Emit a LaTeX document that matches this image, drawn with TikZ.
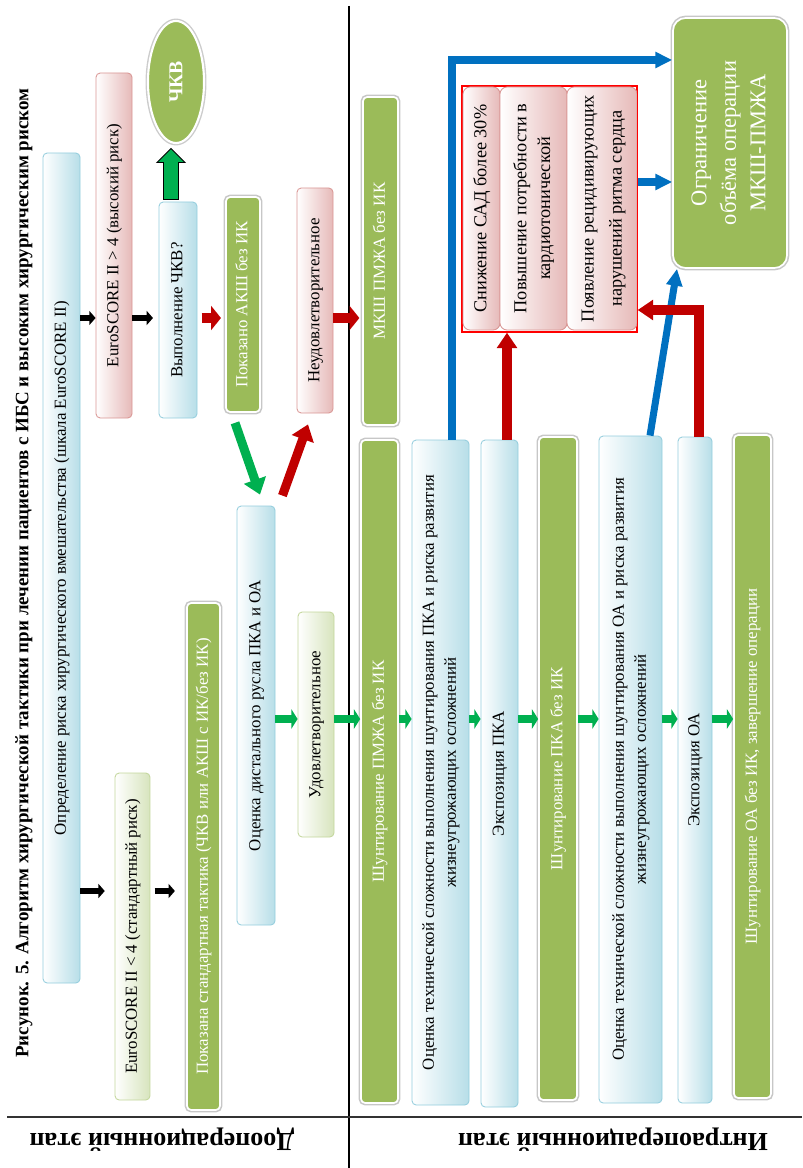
\documentclass[tikz,border=0pt]{standalone}
\usepackage{graphicx}
\usepackage{fontspec}
\setmainfont{Liberation Serif}
\usetikzlibrary{arrows.meta,shapes.geometric,calc}
\definecolor{gr}{HTML}{9BBB59}
\definecolor{lb}{HTML}{B7DEE8}
\definecolor{lbd}{HTML}{93CDDD}
\definecolor{pk}{HTML}{E6B9B8}
\definecolor{pkd}{HTML}{D99694}
\definecolor{lg}{HTML}{D7E4BD}
\definecolor{lgd}{HTML}{C3D69B}
\definecolor{bl}{HTML}{0070C0}
\definecolor{rd}{HTML}{C00000}
\definecolor{ga}{HTML}{00B050}
\newcommand\rtx[1]{\rotatebox{90}{\begin{tabular}{@{}c@{}}#1\end{tabular}}}
\begin{document}
\begin{tikzpicture}[x=0.025cm,y=-0.025cm]
\useasboundingbox (0,0) rectangle (802,1168);
\tikzset{
  sz/.style 2 args={minimum width=#1*0.025cm, minimum height=#2*0.025cm},
  base/.style={inner sep=0pt, rounded corners=3pt, font=\fontsize{12}{15.5}\selectfont, line width=0.6pt},
  bluebox/.style={base, draw=lbd, left color=white, right color=lb},
  pinkbox/.style={base, draw=pkd, left color=white, right color=pk},
  lgbox/.style={base, draw=lgd, left color=white, right color=lg},
  grbox/.style={base, fill=gr, draw=white, line width=1.2pt, text=white, preaction={draw=black!22, line width=3.4pt}},
  blk/.style={draw=black, line width=4.3pt, -{Triangle[length=4.5pt,width=10pt]}},
  rsh/.style={draw=rd, line width=7.5pt, -{Triangle[length=7pt,width=17pt]}},
  gsm/.style={draw=ga, line width=5pt, -{Triangle[length=4.5pt,width=14pt]}},
  dgg/.style={draw=ga, line width=6.4pt, -{Triangle[length=11pt,width=16pt]}},
  dgr/.style={draw=rd, line width=6.4pt, -{Triangle[length=11pt,width=16pt]}},
  rlong/.style={draw=rd, line width=7pt, -{Triangle[length=11pt,width=14pt]}},
  blu/.style={draw=bl, line width=5pt, -{Triangle[length=12pt,width=11pt]}},
}
% frame lines
\coordinate (vt) at (349,6);
\coordinate (vb) at (349,1168);
\coordinate (hl) at (7,1117);
\coordinate (hr) at (802,1117);
\draw[line width=0.8pt] (vt) -- (vb);
\draw[line width=0.8pt, black!80] (hl) -- (hr);

% title and stage labels
\node[font=\bfseries\fontsize{13.5}{16}\selectfont] (title) at (24,573) {\rotatebox{90}{Рисунок. 5. Алгоритм хирургической тактики при лечении пациентов с ИБС и высоким хирургическим риском}};
\node[font=\bfseries\fontsize{18.5}{21}\selectfont] (pre) at (162,1140) {\rotatebox{180}{Дооперационный этап}};
\node[font=\bfseries\fontsize{18.5}{21}\selectfont] (intra) at (613,1140) {\rotatebox{180}{Интраоперационный этап}};

% preoperative boxes
\node[bluebox, sz={37}{830}] (def) at (61.5,568) {\rtx{Определение риска хирургического вмешательства (шкала EuroSCORE II)}};
\node[pinkbox, sz={36}{345}] (hi) at (114,245.5) {\rtx{EuroSCORE II > 4 (высокий риск)}};
\node[lgbox, sz={35}{327}] (lo) at (132.5,936.5) {\rtx{EuroSCORE II < 4 (стандартный риск)}};
\node[bluebox, sz={38}{216}] (vchkv) at (178,310) {\rtx{Выполнение ЧКВ?}};
\node[ellipse, fill=gr, draw=white, line width=1.5pt, preaction={draw=black!20, line width=3.5pt}, sz={56}{122}, inner sep=0pt, text=white, font=\bfseries\fontsize{14}{16}\selectfont] (chkv) at (176,82) {\rotatebox{90}{ЧКВ}};
\node[grbox, sz={33}{507}] (std) at (203.5,856.5) {\rtx{Показана стандартная тактика (ЧКВ или АКШ с ИК/без ИК)}};
\node[grbox, sz={34}{215}] (akh) at (243,304.5) {\rtx{Показано АКШ без ИК}};
\node[bluebox, sz={38}{419}] (dist) at (256,715.5) {\rtx{Оценка дистального русла ПКА и ОА}};
\node[pinkbox, sz={36}{225}] (bad) at (315,300.5) {\rtx{Неудовлетворительное}};
\node[lgbox, sz={36}{225}] (good) at (316,724.5) {\rtx{Удовлетворительное}};

% intraoperative boxes
\node[grbox, sz={35}{328}] (mksh) at (380.5,261) {\rtx{МКШ ПМЖА без ИК}};
\node[grbox, sz={37}{663}] (shpm) at (379.5,771.5) {\rtx{Шунтирование ПМЖА без ИК}};
\node[bluebox, sz={57}{665}] (ocpka) at (440.5,772.5) {\rtx{Оценка технической сложности выполнения шунтирования ПКА и риска развития\\жизнеугрожающих осложнений}};
\node[bluebox, sz={37}{667}] (expka) at (499.5,773.5) {\rtx{Экспозиция ПКА}};
\node[grbox, sz={38}{663}] (shpka) at (558,768.5) {\rtx{Шунтирование ПКА без ИК}};
\node[bluebox, sz={63}{667}] (ocoa) at (630.5,769.5) {\rtx{Оценка технической сложности выполнения шунтирования ОА и риска развития\\жизнеугрожающих осложнений}};
\node[bluebox, sz={34}{666}] (exoa) at (695,770) {\rtx{Экспозиция ОА}};
\node[grbox, sz={37}{663}] (shoa) at (752.5,766.5) {\rtx{Шунтирование ОА без ИК, завершение операции}};

% complication group
\node[draw=red, line width=1pt, fill=white, sz={175}{246}, inner sep=0pt] (rgrp) at (549.5,209) {};
\node[pinkbox, rounded corners=5pt, sz={37}{243}, font=\fontsize{13}{17}\selectfont] (r1) at (481.5,208.5) {\rtx{Снижение САД более 30\%}};
\node[pinkbox, rounded corners=5pt, sz={67}{243}, font=\fontsize{13}{17}\selectfont] (r2) at (533.5,208.5) {\rtx{Повышение потребности в\\кардиотонической}};
\node[pinkbox, rounded corners=5pt, sz={70}{243}, font=\fontsize{13}{20}\selectfont] (r3) at (602,208.5) {\rtx{Появление рецидивирующих\\нарушений ритма сердца}};
\draw[red, line width=1pt] (rgrp.north west) rectangle (rgrp.south east);

% result box
\node[grbox, rounded corners=9pt, sz={114}{250}, font=\fontsize{16}{21}\selectfont] (lim) at (730,143) {\rtx{Ограничение\\объёма операции\\МКШ-ПМЖА}};

% block arrow to ЧКВ
\draw[fill=ga, draw=black, line width=0.6pt] ($(vchkv.north)+(-14.5,-2)$) -- ++(15,0) -- ++(0,-37) -- ++(6.5,0) -- ++(-14,-14) -- ++(-14,14) -- ++(6.5,0) -- cycle;

% black arrows
\draw[blk] (def.east |- 0,318) -- (hi.west |- 0,318);
\draw[blk, shorten >=4pt] (hi.east |- 0,318) -- (vchkv.west |- 0,318);
\draw[blk, shorten >=7pt] (def.east |- 0,891) -- (lo.west |- 0,891);
\draw[blk, shorten <=3pt, shorten >=8pt] (lo.east |- 0,891) -- (std.west |- 0,891);

% red short arrows
\draw[rsh, shorten <=3pt, shorten >=3pt] (vchkv.east |- 0,318) -- (akh.west |- 0,318);
\draw[rsh, shorten >=2pt] (bad.east |- 0,318) -- (mksh.west |- 0,318);

% diagonals
\draw[dgg] ($(akh.south)+(-8,10)$) -- ($(dist.north)+(4,-11)$);
\draw[dgr] ($(dist.north east)+(7,-10)$) -- ($(bad.south)+(-7,11)$);

% green chain
\foreach \a/\b in {dist/good, good/shpm, shpm/ocpka, ocpka/expka, expka/shpka, shpka/ocoa, ocoa/exoa, exoa/shoa}
  \draw[gsm] (\a.east |- 0,719) -- (\b.west |- 0,719);

% blue connectors
\draw[blu] (ocpka.north -| 452,0) |- (lim.west |- 0,60);
\draw[blu] (rgrp.east |- 0,182) -- (lim.west |- 0,182);
\draw[blu] (ocoa.north -| 650,0) -- (lim.south -| 677,0);

% red connectors
\draw[rlong] (expka.north -| 507,0) -- (rgrp.south -| 507,0);
\draw[rlong] (exoa.north -| 699,0) |- (rgrp.east |- 0,310);
\end{tikzpicture}
\end{document}
